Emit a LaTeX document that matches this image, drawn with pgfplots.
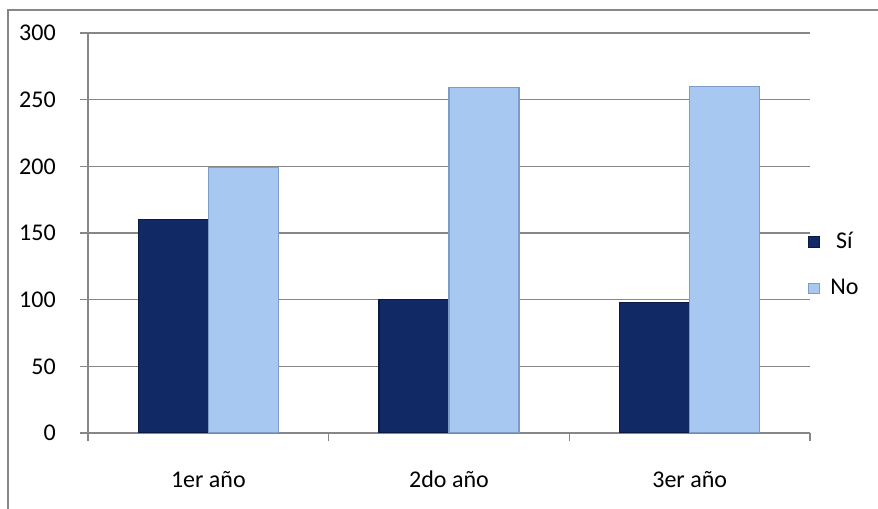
\documentclass[border=0pt]{standalone}
\usepackage{pgfplots}
\pgfplotsset{compat=1.18}
\usetikzlibrary{calc}
\usepackage{fontspec}
\setmainfont{Carlito}
\definecolor{siFill}{HTML}{112A66}
\definecolor{siEdge}{HTML}{0A1A45}
\definecolor{noFill}{HTML}{A7C8F0}
\definecolor{noEdge}{HTML}{7F9CC6}
\definecolor{gridgray}{HTML}{878787}
\begin{document}
\fontsize{18}{21}\selectfont
\begin{tikzpicture}
\begin{axis}[
  name=ax,
  scale only axis, width=541.5pt, height=300pt,
  xmin=-0.5, xmax=2.5, ymin=0, ymax=300,
  ytick={0,50,...,300},
  xtick={-0.5,0.5,1.5,2.5}, xticklabels={},
  extra x ticks={0,1,2},
  extra x tick labels={\strut 1er año,\strut 2do año,\strut 3er año},
  extra x tick style={major tick length=0pt, xticklabel style={yshift=-20pt}},
  axis x line*=bottom, axis y line*=left,
  axis line style={gridgray, line width=1pt, -},
  tick style={gridgray, line width=1pt},
  tick align=outside, major tick length=6pt,
  ymajorgrids, grid style={gridgray, line width=1pt},
  yticklabel style={xshift=-12pt},
  /pgf/number format/assume math mode=true,
  ticklabel style={font=\fontsize{18}{21}\selectfont},
  ybar, bar width=52.5pt,
  legend style={at={(1.0,0.42)}, anchor=west, draw=none, fill=none,
    inner xsep=0pt, xshift=-1.5pt,
    font=\fontsize{18}{21}\selectfont, row sep=16pt},
  legend image code/.code={\draw[#1, line width=0.6pt] (0pt,-4pt) rectangle (8pt,4pt);},
]
\addplot[fill=siFill, draw=siEdge, line width=1pt, bar shift=-26.25pt] coordinates {(0,160) (1,100) (2,98)};
\addplot[fill=noFill, draw=noEdge, line width=1pt, bar shift=26.25pt] coordinates {(0,199) (1,259) (2,260)};
\legend{\hspace{6pt}Sí,\hspace{6pt}No}
\end{axis}
\pgfresetboundingbox
\coordinate (O) at ($(ax.south west)+(-66pt,-57pt)$);
\begin{scope}[shift={(O)}, x=0.75pt, y=0.75pt]
\useasboundingbox (0,0) rectangle (878,509);
\draw[gridgray,line width=0.9pt] (8,-5) -- (8,499) -- (883,499);
\end{scope}
\end{tikzpicture}
\end{document}
